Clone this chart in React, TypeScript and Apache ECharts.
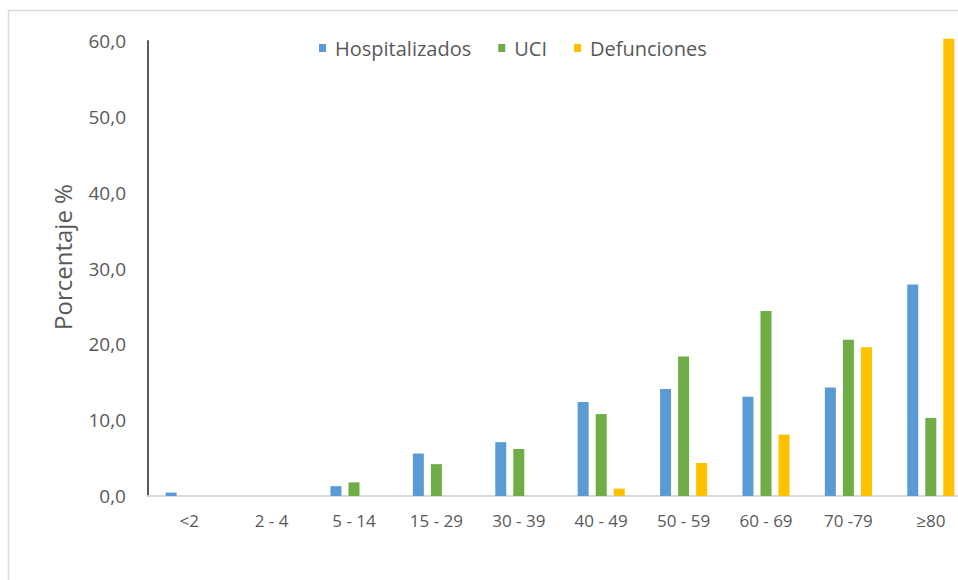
import React, { useEffect, useRef } from "react";
import * as echarts from "echarts";

const categories = ["<2", "2 - 4", "5 - 14", "15 - 29", "30 - 39", "40 - 49", "50 - 59", "60 - 69", "70 -79", "≥80"];
const hospitalizados = [0.45, 0, 1.3, 5.6, 7.1, 12.4, 14.1, 13.1, 14.3, 27.9];
const uci = [0, 0, 1.8, 4.2, 6.2, 10.8, 18.4, 24.4, 20.6, 10.3];
const defunciones = [0, 0, 0, 0, 0, 0.97, 4.35, 8.1, 19.6, 60.3];
const seriesNames = ["Hospitalizados", "UCI", "Defunciones"];
const colors = ["#5B9BD5", "#70AD47", "#FFC000"];
const yTitle = "Porcentaje %";

const FONT = "'Open Sans', sans-serif";

export default function App() {
  const ref = useRef<HTMLDivElement>(null);
  useEffect(() => {
    if (!ref.current) return;
    const chart = echarts.init(ref.current, undefined, { renderer: "svg" });
    const data = [hospitalizados, uci, defunciones];
    chart.setOption({
      animation: false,
      backgroundColor: "#ffffff",
      textStyle: { fontFamily: FONT },
      graphic: [
        {
          type: "line",
          shape: { x1: 8.5, y1: 10.5, x2: 960, y2: 10.5 },
          style: { stroke: "#D9D9D9", lineWidth: 1.5 },
          silent: true,
        },
        {
          type: "line",
          shape: { x1: 8.5, y1: 10.5, x2: 8.5, y2: 600 },
          style: { stroke: "#D9D9D9", lineWidth: 1.5 },
          silent: true,
        },
        {
          type: "text",
          x: 62,
          y: 257,
          rotation: Math.PI / 2,
          style: {
            text: yTitle,
            fill: "#595959",
            fontSize: 24,
            fontFamily: FONT,
            textAlign: "center",
            textVerticalAlign: "middle",
          },
          silent: true,
        },
      ],
      legend: {
        left: 314,
        top: 33,
        icon: "rect",
        itemWidth: 7,
        itemHeight: 8,
        itemGap: 27,
        textStyle: { color: "#595959", fontSize: 20, fontFamily: FONT, padding: [0, 0, 0, 4] },
        data: seriesNames,
      },
      grid: {
        left: 148,
        width: 824,
        top: 41,
        bottom: 84,
        containLabel: false,
        outerBoundsMode: "none",
      },
      xAxis: {
        type: "category",
        data: categories,
        axisLine: { lineStyle: { color: "#D9D9D9", width: 2 } },
        axisTick: { show: false },
        axisLabel: { color: "#595959", fontSize: 17, margin: 16, fontFamily: FONT },
      },
      yAxis: {
        type: "value",
        min: 0,
        max: 60,
        interval: 10,
        axisLine: { show: true, lineStyle: { color: "#595959", width: 2 } },
        axisTick: { show: false },
        splitLine: { show: false },
        axisLabel: {
          color: "#595959",
          fontSize: 19,
          margin: 22,
          fontFamily: FONT,
          formatter: (v: number) => v.toFixed(1).replace(".", ","),
        },
      },
      series: seriesNames.map((name, i) => ({
        name,
        type: "bar",
        data: data[i],
        barWidth: 11,
        barGap: "64%",
        clip: false,
        itemStyle: { color: colors[i] },
      })),
    });
    return () => chart.dispose();
  }, []);
  return (
    <div
      ref={ref}
      style={{ position: "absolute", left: 0, top: 0, width: 958, height: 580 }}
    />
  );
}
